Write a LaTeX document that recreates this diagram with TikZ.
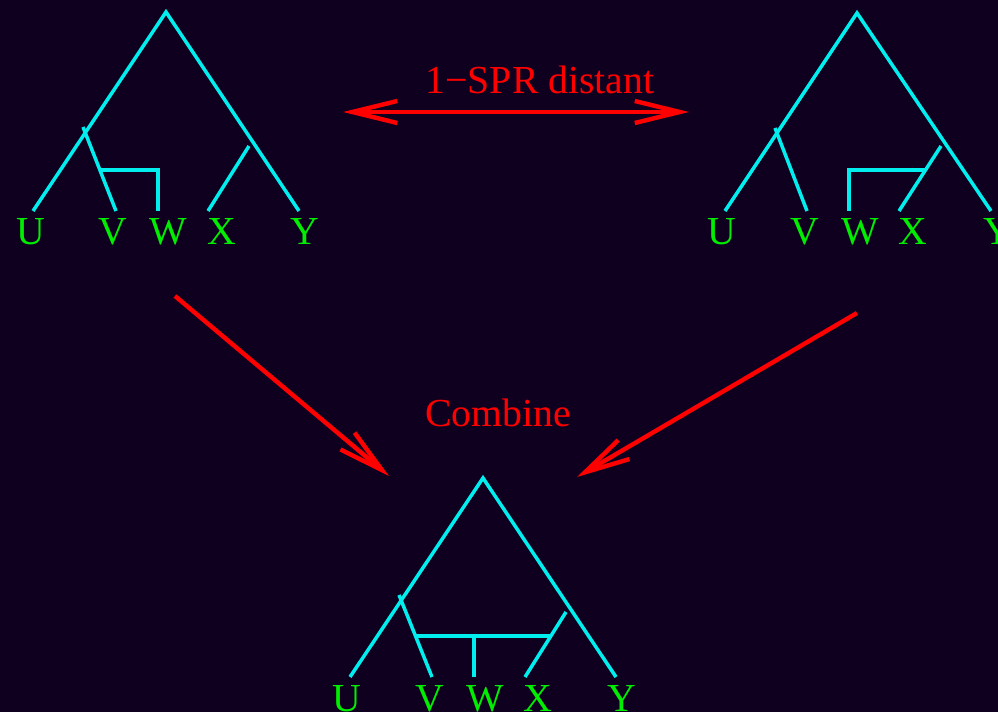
\documentclass[tikz,border=0pt]{standalone}
\usepackage{fontspec}
\setmainfont{Liberation Serif}
\usetikzlibrary{arrows.meta}
\definecolor{bg}{RGB}{16,0,32}
\definecolor{treec}{RGB}{0,238,238}
\definecolor{leafc}{RGB}{0,238,0}
\definecolor{arr}{RGB}{255,0,0}
\begin{document}
\begin{tikzpicture}[x=0.02cm,y=-0.02cm,
  edge/.style={treec, line width=2pt},
  leaf/.style={text=leafc, font=\fontsize{22.6}{26}\selectfont, anchor=base, inner sep=0pt},
  lbl/.style={text=arr, font=\fontsize{22.6}{26}\selectfont, anchor=base, inner sep=0pt},
  barb/.tip={Straight Barb[length=0.9cm,width=0.44cm]},
  conn/.style={arr, line width=2.5pt, -barb}]
\useasboundingbox (0,0) rectangle (998,712);
\fill[bg] (0,0) rectangle (998,712);

% ---- left tree ----
\coordinate (Ar) at (166,12);
\coordinate (Au) at (33,211);
\coordinate (Ay) at (299,211);
\coordinate (Av0) at (83,127);
\coordinate (Av) at (116,211);
\coordinate (Aw) at (158,211);
\coordinate (Awt) at (158,170);
\coordinate (Awh) at (100,170);
\coordinate (Ax0) at (249,146);
\coordinate (Ax) at (208,211);
\draw[edge] (Au) -- (Ar) -- (Ay);
\draw[edge] (Av0) -- (Av);
\draw[edge] (Awh) -- (Awt) -- (Aw);
\draw[edge] (Ax0) -- (Ax);
\node[leaf] (AU) at (31,245) {U};
\node[leaf] (AV) at (113,245) {V};
\node[leaf] (AW) at (168,245) {W};
\node[leaf] (AX) at (222,245) {X};
\node[leaf] (AY) at (305,245) {Y};

% ---- right tree ----
\coordinate (Br) at (857,13);
\coordinate (Bu) at (725,211);
\coordinate (By) at (991,211);
\coordinate (Bv0) at (775,128);
\coordinate (Bv) at (807,211);
\coordinate (Bw) at (849,211);
\coordinate (Bwt) at (849,170);
\coordinate (Bwh) at (925,170);
\coordinate (Bx0) at (941,146);
\coordinate (Bx) at (899,211);
\draw[edge] (Bu) -- (Br) -- (By);
\draw[edge] (Bv0) -- (Bv);
\draw[edge] (Bwh) -- (Bwt) -- (Bw);
\draw[edge] (Bx0) -- (Bx);
\node[leaf] (BU) at (722,245) {U};
\node[leaf] (BV) at (805,245) {V};
\node[leaf] (BW) at (860,245) {W};
\node[leaf] (BX) at (913,245) {X};
\node[leaf] (BY) at (998,245) {Y};

% ---- bottom tree ----
\coordinate (Cr) at (483,478);
\coordinate (Cu) at (350,677);
\coordinate (Cy) at (616,677);
\coordinate (Cv0) at (399,595);
\coordinate (Cv) at (432,677);
\coordinate (Chl) at (416,636);
\coordinate (Chr) at (551,636);
\coordinate (Cwt) at (474,636);
\coordinate (Cw) at (474,677);
\coordinate (Cx0) at (566,612);
\coordinate (Cx) at (525,677);
\draw[edge] (Cu) -- (Cr) -- (Cy);
\draw[edge] (Cv0) -- (Cv);
\draw[edge] (Chl) -- (Chr);
\draw[edge] (Cwt) -- (Cw);
\draw[edge] (Cx0) -- (Cx);
\node[leaf] (CU) at (347,712) {U};
\node[leaf] (CV) at (430,712) {V};
\node[leaf] (CW) at (485,712) {W};
\node[leaf] (CX) at (538,712) {X};
\node[leaf] (CY) at (622,712) {Y};

% ---- arrows and labels ----
\coordinate (D1) at (343,112);
\coordinate (D2) at (689,112);
\draw[conn, barb-barb] (D1) -- (D2);
\node[lbl] (spr) at (540,94) {1−SPR distant};

\coordinate (L1) at (175,296);
\coordinate (L2) at (389,476);
\coordinate (R1) at (857,313);
\coordinate (R2) at (577,477);
\draw[conn] (L1) -- (L2);
\draw[conn] (R1) -- (R2);
\node[lbl] (comb) at (498,427) {Combine};
\end{tikzpicture}
\end{document}
